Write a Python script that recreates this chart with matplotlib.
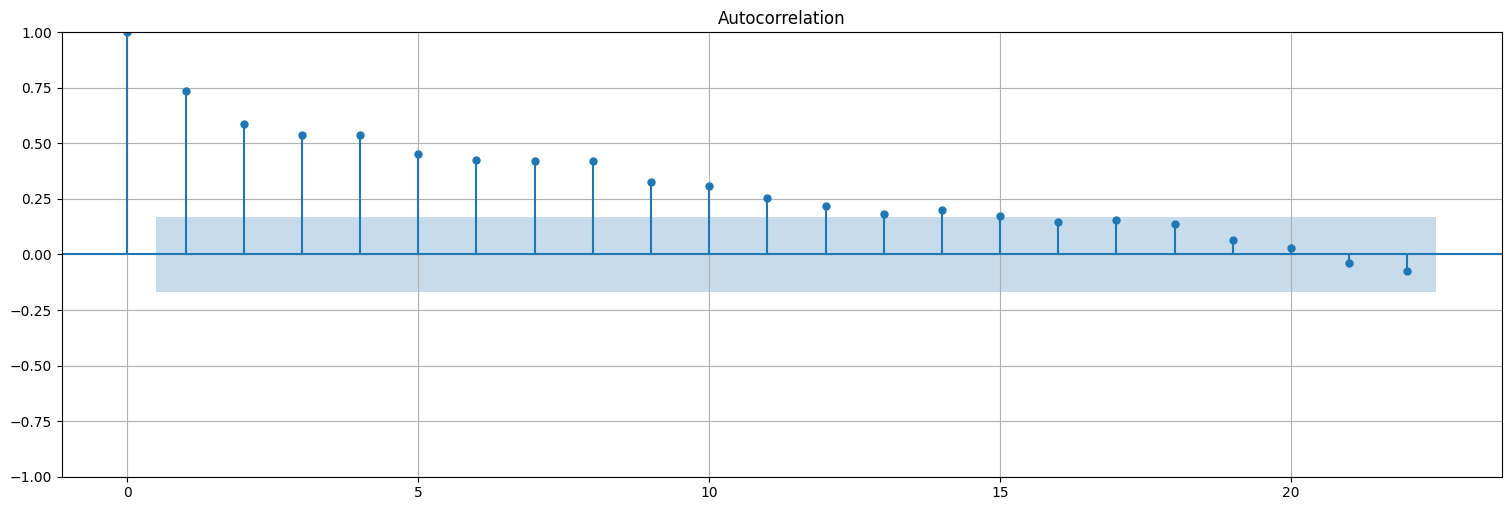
import numpy as np
import matplotlib
matplotlib.use("Agg")
import matplotlib.pyplot as plt

lags = np.arange(23)
acf_vals = [1.0, 0.737, 0.589, 0.539, 0.539, 0.454, 0.427, 0.422, 0.422,
            0.328, 0.310, 0.252, 0.220, 0.180, 0.202, 0.171, 0.148, 0.154,
            0.137, 0.065, 0.029, -0.038, -0.075]
conf = 0.168

fig = plt.figure(figsize=(15.11, 5.11), dpi=100)
ax = fig.add_axes([0.041, 0.067, 0.953, 0.870])

ax.vlines(lags, [0], acf_vals, color="C0")
ax.axhline(0, color="C0")
ax.plot(lags, acf_vals, "o", color="C0", markersize=5)
band_x = np.concatenate([[lags[1] - 0.5], lags[2:], [lags[-1] + 0.5]])
ax.fill_between(band_x, -conf, conf, alpha=0.25, linewidth=0, color="C0")
ax.margins(0.05)
ax.set_ylim(-1, 1)
ax.set_title("Autocorrelation")
ax.grid(True)

fig.savefig("out.png", dpi=100)
